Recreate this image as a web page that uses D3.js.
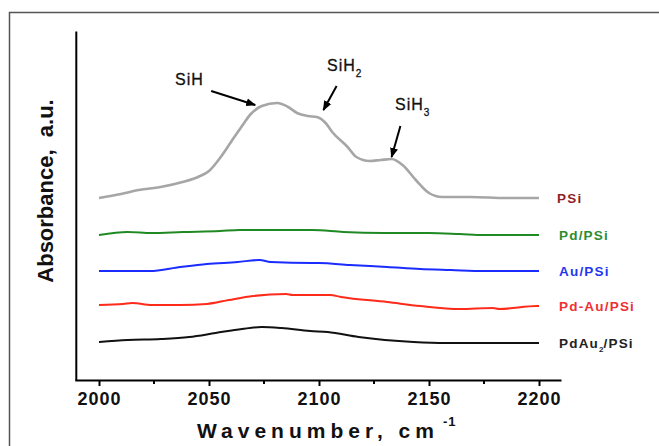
<!DOCTYPE html>
<html>
<head>
<meta charset="utf-8">
<script src="https://cdn.jsdelivr.net/npm/d3@7"></script>
<style>
  body { margin: 0; background: #fff; }
  svg { font-family: Arial, "Liberation Sans", sans-serif; }
</style>
</head>
<body>
<svg id="chart"></svg>
<script>
const svg_w = 659;
const svg_h = 446;

// espectros: [numero de onda, absorbancia (u.a.)]
const psi = [[2000,182],[2010,186],[2018,190],[2028,193],[2038,198],[2045,203],[2050,209],[2055,222],[2060,238],
  [2065,254],[2069,266],[2074,274],[2081,277],[2086,273],[2090,267],[2095,264],[2099,263],[2103,257],[2106,248],
  [2113,233],[2117,223],[2123,219],[2128,220],[2133,221],[2138,215],[2144,200],[2150,187],[2156,183],[2169,183],
  [2185,182],[2200,182]];
const pd_psi = [[2000,145],[2013,148],[2024,147],[2038,148],[2055,149],[2064,150],[2080,150],[2097,150],
  [2111,148],[2129,147],[2150,147],[2164,146],[2175,145],[2200,145]];
const au_psi = [[2000,109],[2023,109],[2037,113],[2049,116],[2063,118],[2073,120],[2078,118],[2097,117],
  [2100,117],[2114,115],[2131,113],[2146,111],[2160,110],[2175,109],[2200,109]];
const pdau_psi = [[2000,75],[2011,76],[2015,77],[2024,75],[2037,75],[2049,76],[2059,80],[2070,84],[2085,86],
  [2088,85],[2105,85],[2110,83],[2131,78],[2146,74],[2164,71],[2179,72],[2182,71],[2199,74],[2200,74]];
const pdau2_psi = [[2000,38],[2013,40],[2028,41],[2041,43],[2053,47],[2065,51],[2074,53],[2083,52],[2096,49],
  [2104,48],[2118,43],[2143,38],[2158,37],[2200,37]];

const series = [
  {name: "PSi", data: psi, color: "#a6a6a6", label_color: "#8f1f24", width: 2.6},
  {name: "Pd/PSi", data: pd_psi, color: "#1f8a24", label_color: "#2e8b2e", width: 2},
  {name: "Au/PSi", data: au_psi, color: "#1a2cff", label_color: "#2437f0", width: 2},
  {name: "Pd-Au/PSi", data: pdau_psi, color: "#ff2a1a", label_color: "#ee3030", width: 2},
  {name: "PdAu|2|/PSi", data: pdau2_psi, color: "#111111", label_color: "#222222", width: 2}
];

const x_ticks = [2000, 2050, 2100, 2150, 2200];
const x_minor = [2025, 2075, 2125, 2175];

// picos señalados en la curva PSi
const peaks = [
  {base: "SiH", sub: "", tx: 175, ty: 85, from: [2051, 289], to: [2071, 275]},
  {base: "SiH", sub: "2", tx: 327, ty: 71, from: [2108, 294], to: [2102, 270]},
  {base: "SiH", sub: "3", tx: 395, ty: 110, from: [2137, 254], to: [2133, 223]}
];

let svg = d3.select("#chart")
  .attr("width", svg_w)
  .attr("height", svg_h);

// marco gris
svg.append("rect")
  .attr("x", 9.5).attr("y", 12.5)
  .attr("width", 700).attr("height", 500)
  .attr("fill", "none")
  .attr("stroke", "#555")
  .attr("stroke-width", 1.5);

let x_scale = d3.scaleLinear()
  .domain([1989, 2210])
  .range([74.8, 561]);

let y_scale = d3.scaleLinear()
  .domain([0, 349])
  .range([380, 31]);

// eje x
let x_axis = svg.append("g")
  .attr("transform", `translate(0,${y_scale(0)})`)
  .call(d3.axisBottom(x_scale).tickValues(x_ticks).tickFormat(d3.format("d")).tickSize(6).tickSizeOuter(0));
x_axis.select(".domain").attr("stroke", "#000").attr("stroke-width", 2);
x_axis.selectAll(".tick line").attr("stroke", "#000").attr("stroke-width", 2);
x_axis.selectAll(".tick text")
  .attr("y", 12)
  .attr("font-size", 18)
  .attr("font-weight", "bold")
  .attr("letter-spacing", 1)
  .attr("fill", "#111");

svg.append("g")
  .attr("transform", `translate(0,${y_scale(0)})`)
  .selectAll("line")
  .data(x_minor)
  .enter()
  .append("line")
  .attr("x1", d => x_scale(d)).attr("x2", d => x_scale(d))
  .attr("y1", 0).attr("y2", 4)
  .attr("stroke", "#000").attr("stroke-width", 2);

// eje y (sin marcas)
let y_axis = svg.append("g")
  .attr("transform", `translate(${x_scale(1989) + 1},0)`)
  .call(d3.axisLeft(y_scale).tickValues([]).tickSizeOuter(0));
y_axis.select(".domain").attr("stroke", "#000").attr("stroke-width", 2);

// curvas
let line = d3.line()
  .x(d => x_scale(d[0]))
  .y(d => y_scale(d[1]))
  .curve(d3.curveMonotoneX);

svg.append("g")
  .selectAll("path")
  .data(series)
  .enter()
  .append("path")
  .attr("d", d => line(d.data))
  .attr("fill", "none")
  .attr("stroke", d => d.color)
  .attr("stroke-width", d => d.width)
  .attr("stroke-linejoin", "round");

// etiquetas de series
let labels = svg.append("g")
  .selectAll("text")
  .data(series)
  .enter()
  .append("text")
  .attr("x", (d, i) => i == 0 ? 557 : 559)
  .attr("y", d => y_scale(d.data[d.data.length - 1][1]) + 5)
  .attr("font-size", 13.5)
  .attr("font-weight", "bold")
  .attr("letter-spacing", 1.2)
  .attr("fill", d => d.label_color);

labels.each(function(d) {
  let parts = d.name.split("|");
  let t = d3.select(this);
  t.append("tspan").text(parts[0]);
  if (parts.length > 1) {
    t.append("tspan").attr("font-size", 8).attr("dy", 4).attr("letter-spacing", 0).text(parts[1]);
    t.append("tspan").attr("dy", -4).text(parts[2]);
  }
});

// anotaciones de picos
svg.append("defs").append("marker")
  .attr("id", "arrow")
  .attr("viewBox", "0 0 10 10")
  .attr("refX", 9).attr("refY", 5)
  .attr("markerWidth", 5).attr("markerHeight", 5)
  .attr("orient", "auto")
  .append("path")
  .attr("d", "M0,1 L10,5 L0,9 Z")
  .attr("fill", "#000");

let notes = svg.append("g")
  .selectAll("g")
  .data(peaks)
  .enter()
  .append("g");

notes.append("line")
  .attr("x1", d => x_scale(d.from[0])).attr("y1", d => y_scale(d.from[1]))
  .attr("x2", d => x_scale(d.to[0])).attr("y2", d => y_scale(d.to[1]))
  .attr("stroke", "#000").attr("stroke-width", 2)
  .attr("marker-end", "url(#arrow)");

let note_text = notes.append("text")
  .attr("x", d => d.tx).attr("y", d => d.ty)
  .attr("font-size", 16)
  .attr("letter-spacing", 1)
  .attr("fill", "#111")
  .attr("stroke", "#111")
  .attr("stroke-width", 0.3);
note_text.append("tspan").text(d => d.base);
note_text.append("tspan").attr("font-size", 10).attr("dy", 6).text(d => d.sub);

// títulos de ejes
let x_title = svg.append("text")
  .attr("x", 197).attr("y", 438)
  .attr("font-size", 21)
  .attr("font-weight", "bold")
  .attr("letter-spacing", 5)
  .attr("fill", "#111");
x_title.append("tspan").text("Wavenumber, cm");
x_title.append("tspan").attr("font-size", 13).attr("dy", -12).attr("dx", 4).attr("letter-spacing", 1).text("-1");

svg.append("text")
  .attr("transform", "translate(53,191) rotate(-90)")
  .attr("text-anchor", "middle")
  .attr("font-size", 22)
  .attr("font-weight", "bold")
  .attr("fill", "#111")
  .attr("xml:space", "preserve")
  .text("Absorbance,  a.u.");
</script>
</body>
</html>
